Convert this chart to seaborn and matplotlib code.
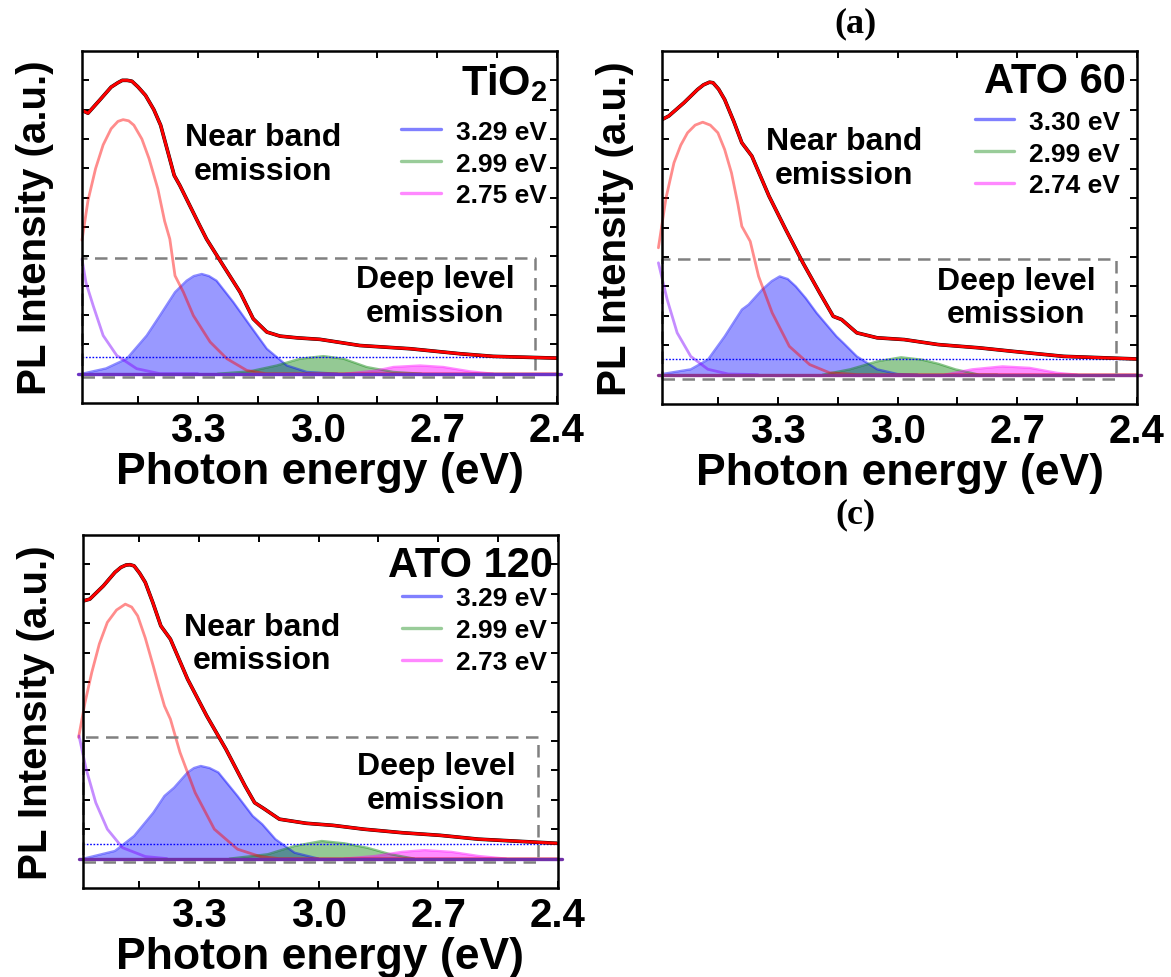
import matplotlib
matplotlib.use("Agg")
import matplotlib.pyplot as plt
import seaborn as sns

# ---------------- data ----------------
# x axis: photon energy (eV), y: PL intensity (normalised, baseline = 0)
XTICKS = [3.3, 3.0, 2.7, 2.4]
XTICK_LABELS = ["3.3", "3.0", "2.7", "2.4"]
XMINOR = [3.45, 3.15, 2.85, 2.55]
YTICKS = [0.0, 0.1, 0.2, 0.3, 0.4, 0.5, 0.6, 0.7, 0.8, 0.9, 1.0]
XLIM = [3.59, 2.40]
YLIM = [-0.1, 1.1]
BASE_E = [3.60, 2.39]
BASE_I = [0.0, 0.0]

TITLES = ["TiO$_2$", "ATO 60", "ATO 120"]
PEAK_LABELS_1 = ["3.29 eV", "2.99 eV", "2.75 eV"]
PEAK_LABELS_2 = ["3.30 eV", "2.99 eV", "2.74 eV"]
PEAK_LABELS_3 = ["3.29 eV", "2.99 eV", "2.73 eV"]

# ---- TiO2 ----
P1_TOTAL_E = [3.59, 3.575, 3.546, 3.517, 3.50, 3.489, 3.477, 3.465, 3.45, 3.431, 3.41, 3.393,
              3.359, 3.345, 3.297, 3.278, 3.236, 3.194, 3.161, 3.127, 3.094, 3.05, 2.994, 2.894,
              2.768, 2.643, 2.560, 2.40]
P1_TOTAL_I = [0.898, 0.888, 0.932, 0.977, 0.992, 1.0, 1.0, 0.997, 0.978, 0.949, 0.90, 0.847,
              0.676, 0.642, 0.51, 0.459, 0.368, 0.278, 0.187, 0.142, 0.128, 0.122, 0.117, 0.096,
              0.085, 0.068, 0.059, 0.053]
P1_NBE_E = [3.59, 3.575, 3.556, 3.537, 3.517, 3.50, 3.487, 3.473, 3.46, 3.44, 3.422, 3.40,
            3.383, 3.370, 3.357, 3.336, 3.311, 3.269, 3.227, 3.177, 3.13, 2.40]
P1_NBE_I = [0.455, 0.59, 0.699, 0.78, 0.835, 0.86, 0.866, 0.862, 0.847, 0.80, 0.733, 0.63,
            0.520, 0.459, 0.334, 0.278, 0.198, 0.108, 0.051, 0.011, 0.0, 0.0]
P1_UV_E = [3.59, 3.58, 3.562, 3.537, 3.503, 3.453, 3.395, 3.30]
P1_UV_I = [0.391, 0.31, 0.232, 0.130, 0.062, 0.017, 0.0, 0.0]
P1_B_E = [3.59, 3.53, 3.478, 3.428, 3.395, 3.357, 3.328, 3.31, 3.290, 3.272, 3.253, 3.211,
          3.169, 3.127, 3.077, 3.027, 2.95]
P1_B_I = [0.0, 0.018, 0.051, 0.130, 0.198, 0.278, 0.317, 0.333, 0.340, 0.333, 0.317, 0.244,
          0.164, 0.085, 0.028, 0.006, 0.0]
P1_G_E = [3.25, 3.17, 3.102, 3.044, 2.985, 2.935, 2.877, 2.810, 2.74]
P1_G_I = [0.0, 0.008, 0.028, 0.051, 0.060, 0.051, 0.023, 0.006, 0.0]
P1_M_E = [2.93, 2.852, 2.810, 2.743, 2.685, 2.618, 2.560]
P1_M_I = [0.0, 0.011, 0.023, 0.028, 0.023, 0.008, 0.0]
P1_DOT = 0.057
P1_BOX_E = [3.59, 2.455]
P1_BOX_I = [-0.011, 0.394]

# ---- ATO 60 ----
P2_TOTAL_E = [3.59, 3.573, 3.535, 3.501, 3.486, 3.471, 3.462, 3.448, 3.433, 3.41, 3.390, 3.365,
              3.322, 3.280, 3.237, 3.195, 3.161, 3.140, 3.102, 3.051, 2.983, 2.898, 2.796, 2.711,
              2.584, 2.40]
P2_TOTAL_I = [0.867, 0.879, 0.924, 0.969, 0.985, 0.994, 0.992, 0.97, 0.935, 0.86, 0.788, 0.743,
              0.607, 0.493, 0.380, 0.278, 0.198, 0.187, 0.142, 0.125, 0.119, 0.102, 0.091, 0.079,
              0.062, 0.053]
P2_NBE_E = [3.599, 3.58, 3.560, 3.543, 3.526, 3.507, 3.488, 3.469, 3.450, 3.433, 3.416, 3.40,
            3.390, 3.369, 3.348, 3.314, 3.271, 3.220, 3.170, 3.10, 2.40]
P2_NBE_I = [0.431, 0.60, 0.72, 0.78, 0.822, 0.848, 0.858, 0.848, 0.822, 0.765, 0.686, 0.58,
            0.504, 0.453, 0.334, 0.210, 0.096, 0.034, 0.006, 0.0, 0.0]
P2_UV_E = [3.599, 3.577, 3.552, 3.518, 3.475, 3.424, 3.35]
P2_UV_I = [0.380, 0.255, 0.142, 0.062, 0.018, 0.002, 0.0]
P2_B_E = [3.59, 3.518, 3.475, 3.433, 3.390, 3.373, 3.339, 3.315, 3.295, 3.275, 3.255, 3.23,
          3.203, 3.153, 3.136, 3.102, 3.051, 3.0, 2.95]
P2_B_I = [0.002, 0.018, 0.051, 0.130, 0.221, 0.238, 0.289, 0.318, 0.334, 0.325, 0.300, 0.26,
          0.210, 0.130, 0.108, 0.062, 0.018, 0.002, 0.0]
P2_G_E = [3.187, 3.119, 3.051, 2.991, 2.940, 2.898, 2.855, 2.796, 2.75]
P2_G_I = [0.0, 0.018, 0.045, 0.059, 0.051, 0.037, 0.018, 0.0, 0.0]
P2_M_E = [2.881, 2.813, 2.737, 2.669, 2.600, 2.55]
P2_M_I = [0.0, 0.018, 0.028, 0.023, 0.006, 0.0]
P2_DOT = 0.053
P2_BOX_E = [3.59, 2.452]
P2_BOX_I = [-0.014, 0.393]

# ---- ATO 120 ----
P3_TOTAL_E = [3.589, 3.573, 3.539, 3.510, 3.495, 3.482, 3.472, 3.462, 3.448, 3.434, 3.415, 3.395,
              3.371, 3.328, 3.280, 3.232, 3.184, 3.160, 3.137, 3.098, 3.031, 2.964, 2.887, 2.791,
              2.695, 2.599, 2.403]
P3_TOTAL_I = [0.876, 0.882, 0.927, 0.973, 0.99, 0.998, 0.999, 0.995, 0.97, 0.939, 0.87, 0.791,
              0.746, 0.610, 0.485, 0.372, 0.247, 0.190, 0.170, 0.134, 0.120, 0.113, 0.100, 0.088,
              0.079, 0.066, 0.052]
P3_NBE_E = [3.601, 3.585, 3.568, 3.549, 3.529, 3.506, 3.484, 3.468, 3.453, 3.434, 3.414, 3.40,
            3.386, 3.371, 3.347, 3.309, 3.261, 3.203, 3.146, 3.10, 2.40]
P3_NBE_I = [0.412, 0.53, 0.633, 0.73, 0.803, 0.845, 0.865, 0.855, 0.825, 0.75, 0.655, 0.585,
            0.519, 0.474, 0.361, 0.224, 0.100, 0.032, 0.007, 0.0, 0.0]
P3_UV_E = [3.600, 3.582, 3.558, 3.529, 3.491, 3.434, 3.38]
P3_UV_I = [0.417, 0.304, 0.190, 0.100, 0.037, 0.007, 0.0]
P3_B_E = [3.589, 3.510, 3.462, 3.414, 3.386, 3.362, 3.328, 3.312, 3.295, 3.273, 3.251, 3.203,
          3.165, 3.141, 3.108, 3.060, 3.0]
P3_B_I = [0.0, 0.026, 0.077, 0.156, 0.213, 0.241, 0.293, 0.308, 0.315, 0.308, 0.293, 0.213,
          0.145, 0.117, 0.066, 0.020, 0.0]
P3_G_E = [3.223, 3.127, 3.060, 2.992, 2.935, 2.878, 2.820, 2.76]
P3_G_I = [0.0, 0.015, 0.043, 0.060, 0.052, 0.037, 0.015, 0.0]
P3_M_E = [2.935, 2.858, 2.791, 2.734, 2.667, 2.599, 2.53]
P3_M_I = [0.0, 0.009, 0.023, 0.029, 0.023, 0.009, 0.0]
P3_DOT = 0.051
P3_BOX_E = [3.59, 2.451]
P3_BOX_I = [-0.012, 0.412]

# ---------------- style ----------------
sns.set_theme(style="ticks")
plt.rcParams["font.family"] = ["Liberation Sans", "DejaVu Sans"]
plt.rcParams["font.weight"] = "bold"
plt.rcParams["mathtext.fontset"] = "custom"
plt.rcParams["mathtext.bf"] = "Liberation Sans:bold"
plt.rcParams["mathtext.rm"] = "Liberation Sans:bold"
plt.rcParams["mathtext.default"] = "bf"
for key in ["text.color", "axes.labelcolor", "xtick.color", "ytick.color", "axes.edgecolor"]:
    plt.rcParams[key] = "black"

panels = [
    dict(rect=[82 / 1171, 1 - 404 / 978, 475 / 1171, 352 / 978], title=TITLES[0], labels=PEAK_LABELS_1,
         total=(P1_TOTAL_E, P1_TOTAL_I), nbe=(P1_NBE_E, P1_NBE_I), uv=(P1_UV_E, P1_UV_I),
         comps=[(P1_B_E, P1_B_I), (P1_G_E, P1_G_I), (P1_M_E, P1_M_I)], dot=P1_DOT,
         box=(P1_BOX_E, P1_BOX_I), base_color="#6c33c4",
         title_xy=(0.981, 0.878), near_xy=(0.381, 0.707), deep_xy=(0.743, 0.304), leg_xy=(0.978, 0.805)),
    dict(rect=[662 / 1171, 1 - 405 / 978, 475 / 1171, 353 / 978], title=TITLES[1], labels=PEAK_LABELS_2,
         total=(P2_TOTAL_E, P2_TOTAL_I), nbe=(P2_NBE_E, P2_NBE_I), uv=(P2_UV_E, P2_UV_I),
         comps=[(P2_B_E, P2_B_I), (P2_G_E, P2_G_I), (P2_M_E, P2_M_I)], dot=P2_DOT,
         box=(P2_BOX_E, P2_BOX_I), base_color="#8a3590",
         title_xy=(0.977, 0.883), near_xy=(0.383, 0.697), deep_xy=(0.745, 0.301), leg_xy=(0.964, 0.834)),
    dict(rect=[83 / 1171, 1 - 889 / 978, 475 / 1171, 353 / 978], title=TITLES[2], labels=PEAK_LABELS_3,
         total=(P3_TOTAL_E, P3_TOTAL_I), nbe=(P3_NBE_E, P3_NBE_I), uv=(P3_UV_E, P3_UV_I),
         comps=[(P3_B_E, P3_B_I), (P3_G_E, P3_G_I), (P3_M_E, P3_M_I)], dot=P3_DOT,
         box=(P3_BOX_E, P3_BOX_I), base_color="#7030a8",
         title_xy=(0.989, 0.885), near_xy=(0.377, 0.693), deep_xy=(0.743, 0.298), leg_xy=(0.976, 0.855)),
]

COMP_COLORS = ["blue", "green", "magenta"]
FILL_ALPHA = [0.40, 0.42, 0.45]
LINE_COLORS = ["#8080ff", "#99cc99", "#ff88ff"]

fig = plt.figure(figsize=(11.71, 9.78), dpi=100)

for p in panels:
    ax = fig.add_axes(p["rect"])
    handles = []
    for (e, i), c, a, lc in zip(p["comps"], COMP_COLORS, FILL_ALPHA, LINE_COLORS):
        ax.fill_between(e, i, 0, color=c, alpha=a, linewidth=0, zorder=2)
        sns.lineplot(x=e, y=i, ax=ax, color=c, alpha=0.45, linewidth=1.6, estimator=None,
                     sort=False, legend=False, zorder=3)
        h, = ax.plot([], [], color=lc, linewidth=2.4)
        handles.append(h)
    sns.lineplot(x=p["nbe"][0], y=p["nbe"][1], ax=ax, color="red", alpha=0.45, linewidth=2.0,
                 estimator=None, sort=False, legend=False, clip_on=False, zorder=4)
    sns.lineplot(x=p["uv"][0], y=p["uv"][1], ax=ax, color="#7f00ff", alpha=0.45, linewidth=2.0,
                 estimator=None, sort=False, legend=False, clip_on=False, zorder=4)
    sns.lineplot(x=BASE_E, y=BASE_I, ax=ax, color=p["base_color"], linewidth=2.4, estimator=None,
                 sort=False, legend=False, clip_on=False, zorder=5)
    ax.axhline(p["dot"], color="blue", linestyle=(0, (1.2, 1.2)), linewidth=1.0, zorder=5)
    be, bi = p["box"]
    ax.plot([be[0], be[1], be[1], be[0], be[0]], [bi[0], bi[0], bi[1], bi[1], bi[0]],
            color="#808080", linestyle=(0, (5, 3)), linewidth=1.8, zorder=6, clip_on=False)
    sns.lineplot(x=p["total"][0], y=p["total"][1], ax=ax, color="black", linewidth=2.6,
                 estimator=None, sort=False, legend=False, zorder=7)
    sns.lineplot(x=p["total"][0], y=p["total"][1], ax=ax, color="red", linewidth=2.1,
                 estimator=None, sort=False, legend=False, zorder=8)

    ax.set_xlim(XLIM)
    ax.set_ylim(YLIM)
    ax.set_xticks(XTICKS)
    ax.set_xticklabels(XTICK_LABELS)
    ax.set_xticks(XMINOR, minor=True)
    ax.set_yticks(YTICKS)
    ax.set_yticklabels([])
    ax.tick_params(which="both", direction="in", top=True, right=True, length=5, width=1.4,
                   color="black", labelcolor="black", labelsize=29, pad=6)
    for lab in ax.get_xticklabels():
        lab.set_fontweight("bold")
    for s in ax.spines.values():
        s.set_linewidth(1.8)
        s.set_color("black")
        s.set_zorder(10)

    ax.set_xlabel("Photon energy (eV)", fontsize=32, fontweight="bold", color="black")
    ax.xaxis.set_label_coords(0.5, -0.136)
    ax.set_ylabel("PL Intensity (a.u.)", fontsize=29, fontweight="bold", color="black")
    ax.yaxis.set_label_coords(-0.058, 0.5)

    ax.text(*p["title_xy"], p["title"], transform=ax.transAxes, ha="right", va="baseline",
            fontsize=30, fontweight="bold", color="black", zorder=12)
    ax.text(*p["near_xy"], "Near band\nemission", transform=ax.transAxes, ha="center", va="center",
            fontsize=23, fontweight="bold", linespacing=1.15, color="black", zorder=12)
    ax.text(*p["deep_xy"], "Deep level\nemission", transform=ax.transAxes, ha="center", va="center",
            fontsize=23, fontweight="bold", linespacing=1.15, color="black", zorder=12)
    leg = ax.legend(handles, p["labels"], loc="upper right", bbox_to_anchor=p["leg_xy"],
                    frameon=False, fontsize=19, handlelength=1.5, handletextpad=0.55,
                    labelspacing=0.3, borderpad=0, borderaxespad=0)
    for t in leg.get_texts():
        t.set_fontweight("bold")
        t.set_color("black")

fig.text(855 / 1171, 1 - 24 / 978, "(a)", ha="center", va="center", fontsize=26,
         fontweight="bold", color="black", family=["Liberation Serif", "DejaVu Serif"])
fig.text(855 / 1171, 1 - 515 / 978, "(c)", ha="center", va="center", fontsize=26,
         fontweight="bold", color="black", family=["Liberation Serif", "DejaVu Serif"])

fig.savefig("out.png", dpi=100)
